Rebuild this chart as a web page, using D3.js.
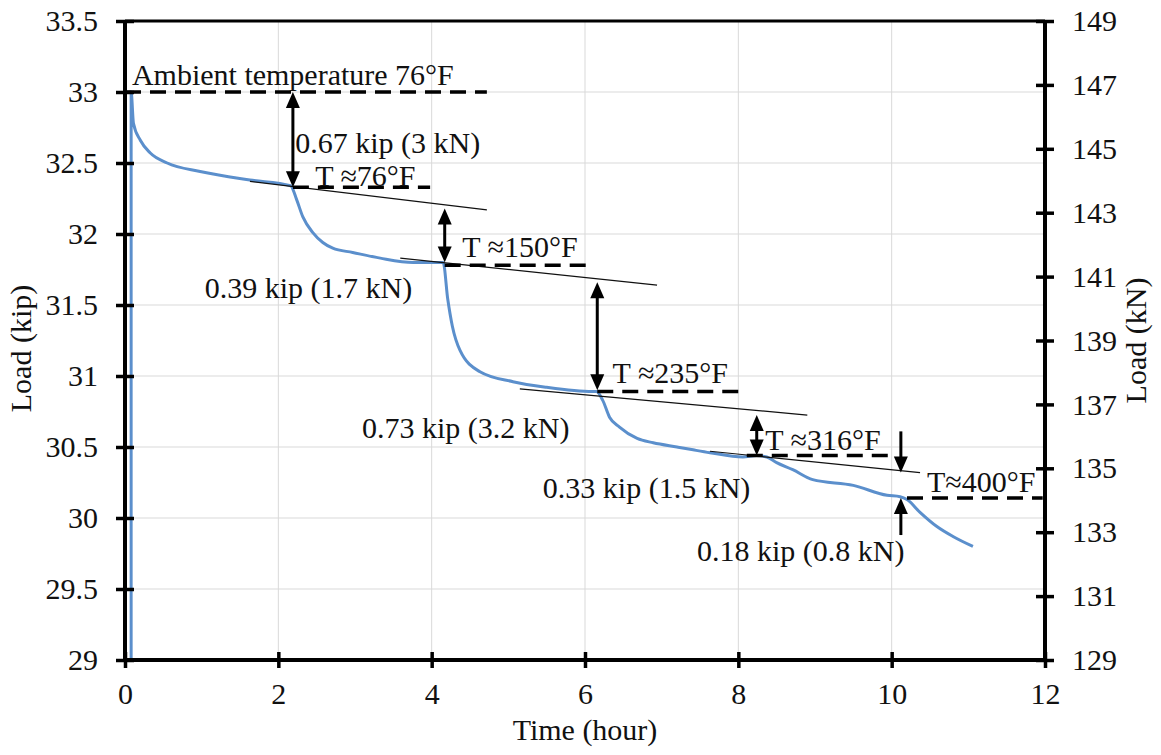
<!DOCTYPE html>
<html>
<head>
<meta charset="utf-8">
<script src="https://cdn.jsdelivr.net/npm/d3@7"></script>
<style>
  body { margin: 0; background: #fff; }
  svg text { font-family: "Liberation Serif", "DejaVu Serif", "Times New Roman", serif; fill: #111; }
</style>
</head>
<body>
<svg id="chart"></svg>
<script>
// measured load history
const timeHr  = [0.08, 0.08, 0.11, 0.2, 0.33, 0.55, 0.98, 1.63, 2.16, 2.24, 2.32, 2.45, 2.58, 2.71, 2.97, 3.33, 3.76, 4.15,
                 4.21, 4.27, 4.37, 4.63, 5.06, 5.5, 6.1, 6.15, 6.23, 6.32, 6.45, 6.68, 6.89, 7.2, 7.41, 7.63, 8.06,
                 8.24, 8.37, 8.5, 8.71, 8.97, 9.5, 9.94, 10.11, 10.2, 10.37, 10.59, 10.8, 11.06]
const loadKip = [29.0, 33.0, 32.78, 32.66, 32.57, 32.5, 32.44, 32.38, 32.34, 32.24, 32.12, 32.01, 31.94, 31.9, 31.87, 31.83, 31.8, 31.8,
                 31.54, 31.35, 31.18, 31.03, 30.96, 30.92, 30.89, 30.89, 30.83, 30.71, 30.64, 30.56, 30.53, 30.5, 30.48, 30.46, 30.43,
                 30.44, 30.43, 30.39, 30.34, 30.27, 30.23, 30.16, 30.15, 30.13, 30.04, 29.94, 29.87, 29.8]

const xTicks = [0, 2, 4, 6, 8, 10, 12]
const kipTicks = [29, 29.5, 30, 30.5, 31, 31.5, 32, 32.5, 33, 33.5]
const kNTicks = [129, 131, 133, 135, 137, 139, 141, 143, 145, 147, 149]

// annotation geometry in data units: [t0, t1, load]
const dashLines = [[0, 4.72, 33.0], [2.19, 3.98, 32.33], [4.17, 6.03, 31.78],
                   [6.16, 8.05, 30.89], [8.11, 10.02, 30.44], [10.2, 11.97, 30.14]]
// trend lines: [t0, load0, t1, load1]
const trendLines = [[1.63, 32.37, 4.72, 32.17], [3.59, 31.83, 6.94, 31.64],
                    [5.15, 30.91, 8.9, 30.725], [7.63, 30.47, 10.37, 30.32]]
// arrows: [t, fromLoad, toLoad, double]
const arrows = [[2.19, 33.0, 32.33, true], [4.17, 32.18, 31.8, true], [6.16, 31.66, 30.9, true],
                [8.24, 30.725, 30.44, true], [10.12, 30.61, 30.32, false], [10.12, 29.88, 30.14, false]]
// labels: [text, t, load]
const labels = [["Ambient temperature 76°F", 0.09, 33.05], ["0.67 kip (3 kN)", 2.22, 32.57],
                ["T ≈76°F", 2.48, 32.34], ["0.39 kip (1.7 kN)", 1.04, 31.55], ["T ≈150°F", 4.4, 31.84],
                ["T ≈235°F", 6.36, 30.95], ["0.73 kip (3.2 kN)", 3.09, 30.56], ["T ≈316°F", 8.35, 30.48],
                ["0.33 kip (1.5 kN)", 5.45, 30.14], ["T≈400°F", 10.46, 30.18], ["0.18 kip (0.8 kN)", 7.46, 29.7]]

const FONT = '"Liberation Serif", "DejaVu Serif", "Times New Roman", serif'
const W = 1161, H = 755
const svg = d3.select('#chart').attr('width', W).attr('height', H)
    .style('font-family', FONT)

const x = d3.scaleLinear().domain([0, 12]).range([125, 1045])
const y = d3.scaleLinear().domain([29, 33.5]).range([660, 21])
const yR = d3.scaleLinear().domain([129, 149]).range([660, 21])

// gridlines
svg.append('g')
    .selectAll('line')
    .data(kipTicks.slice(1, -1))
    .join('line')
    .attr('x1', x(0)).attr('x2', x(12))
    .attr('y1', d => y(d)).attr('y2', d => y(d))
    .attr('stroke', '#d9d9d9').attr('stroke-width', 1)
svg.append('g')
    .selectAll('line')
    .data(xTicks.slice(1, -1))
    .join('line')
    .attr('x1', d => x(d)).attr('x2', d => x(d))
    .attr('y1', y(29)).attr('y2', y(33.5))
    .attr('stroke', '#d9d9d9').attr('stroke-width', 1)

// curve
const pts = timeHr.map((t, i) => [t, loadKip[i]])
svg.append('path')
    .datum(pts)
    .attr('d', d3.line().x(d => x(d[0])).y(d => y(d[1])).curve(d3.curveMonotoneX))
    .attr('fill', 'none')
    .attr('stroke', '#5b8fcc')
    .attr('stroke-width', 3)

// thin trend lines
svg.append('g')
    .selectAll('line')
    .data(trendLines)
    .join('line')
    .attr('x1', d => x(d[0])).attr('y1', d => y(d[1]))
    .attr('x2', d => x(d[2])).attr('y2', d => y(d[3]))
    .attr('stroke', '#111').attr('stroke-width', 1.2)

// dashed reference lines
svg.append('g')
    .selectAll('line')
    .data(dashLines)
    .join('line')
    .attr('x1', d => x(d[0])).attr('x2', d => x(d[1]))
    .attr('y1', d => y(d[2])).attr('y2', d => y(d[2]))
    .attr('stroke', '#000').attr('stroke-width', 3.5)
    .attr('stroke-dasharray', '16,9')

// arrows
function head(px, py, dir) {
    // dir: +1 points down, -1 points up
    const w = 7, L = 16
    return `M${px},${py} L${px - w},${py - dir * L} L${px + w},${py - dir * L} Z`
}
const ag = svg.append('g')
arrows.forEach(a => {
    const px = x(a[0]), p0 = y(a[1]), p1 = y(a[2])
    const dir = p1 > p0 ? 1 : -1
    ag.append('line')
        .attr('x1', px).attr('x2', px)
        .attr('y1', a[3] ? p0 + dir * 12 : p0).attr('y2', p1 - dir * 12)
        .attr('stroke', '#000').attr('stroke-width', 3)
    ag.append('path').attr('d', head(px, p1, dir)).attr('fill', '#000')
    if (a[3]) ag.append('path').attr('d', head(px, p0, -dir)).attr('fill', '#000')
})

// annotation text
svg.append('g')
    .selectAll('text')
    .data(labels)
    .join('text')
    .attr('x', d => x(d[1])).attr('y', d => y(d[2]))
    .attr('font-size', 30)
    .attr('font-family', FONT)
    .text(d => d[0])

// axes frame
svg.append('line').attr('x1', x(0)).attr('x2', x(12)).attr('y1', y(33.5)).attr('y2', y(33.5))
    .attr('stroke', '#000').attr('stroke-width', 3)

const leftAxis = svg.append('g')
    .attr('transform', `translate(${x(0)},0)`)
    .call(d3.axisLeft(y).tickValues(kipTicks).tickFormat(d => d).tickSize(9).tickPadding(18))
const rightAxis = svg.append('g')
    .attr('transform', `translate(${x(12)},0)`)
    .call(d3.axisRight(yR).tickValues(kNTicks).tickSize(9).tickPadding(18))
const bottomAxis = svg.append('g')
    .attr('transform', `translate(0,${y(29)})`)
    .call(d3.axisBottom(x).tickValues(xTicks).tickSize(8).tickPadding(15))

;[leftAxis, rightAxis, bottomAxis].forEach(g => {
    g.attr('font-family', FONT)
    g.select('.domain').attr('stroke', '#000').attr('stroke-width', 4)
    g.selectAll('.tick line').attr('stroke', '#000').attr('stroke-width', 3.5)
    g.selectAll('text').attr('font-size', 30).attr('font-family', FONT).attr('fill', '#111')
})
// crossing ticks
leftAxis.selectAll('.tick line').attr('x1', 9)
rightAxis.selectAll('.tick line').attr('x1', -9)
bottomAxis.selectAll('.tick line').attr('y1', -8)
leftAxis.select('.domain').attr('d', `M0,${y(33.5)}V${y(29)}`)
rightAxis.select('.domain').attr('d', `M0,${y(33.5)}V${y(29)}`)
bottomAxis.select('.domain').attr('d', `M${x(0)},0H${x(12)}`)

// axis titles
svg.append('text')
    .attr('transform', `translate(31,${(y(29) + y(33.5)) / 2 + 8}) rotate(-90)`)
    .attr('text-anchor', 'middle').attr('font-size', 30).attr('font-family', FONT)
    .text('Load (kip)')
svg.append('text')
    .attr('transform', `translate(1146,${(y(29) + y(33.5)) / 2}) rotate(-90)`)
    .attr('text-anchor', 'middle').attr('font-size', 30).attr('font-family', FONT)
    .text('Load (kN)')
svg.append('text')
    .attr('x', (x(0) + x(12)) / 2).attr('y', 740)
    .attr('text-anchor', 'middle').attr('font-size', 30).attr('font-family', FONT)
    .text('Time (hour)')
</script>
</body>
</html>
